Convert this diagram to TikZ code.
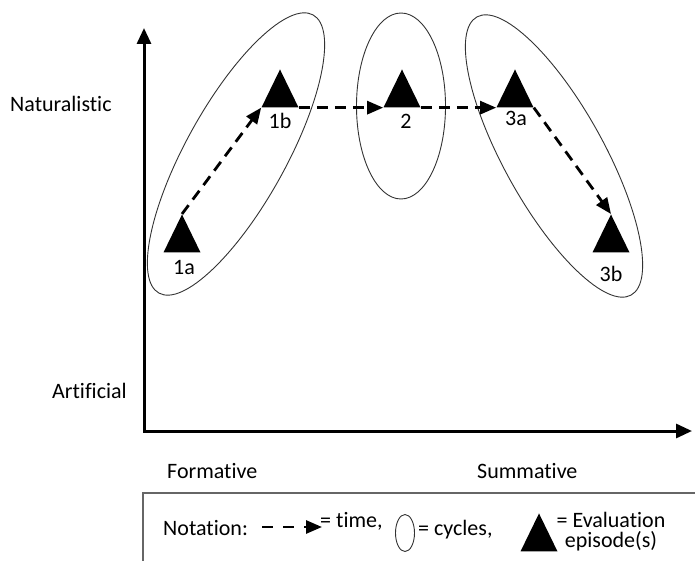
\documentclass[tikz,border=0pt]{standalone}
\usepackage{fontspec}
\setmainfont[Ligatures=NoCommon]{Carlito}
\usetikzlibrary{shapes.geometric,arrows.meta}
\newcommand\lblfont{\fontsize{22}{20}\selectfont}
\begin{document}
\begin{tikzpicture}[x=1pt,y=-1pt,
  tri/.style={isosceles triangle, isosceles triangle apex angle=52,
    isosceles triangle stretches, shape border rotate=90, fill=black, draw=none,
    inner sep=0pt, minimum width=37pt, minimum height=38pt, anchor=apex},
  cyc/.style={ellipse, draw=black!80, line width=0.9pt, inner sep=0pt},
  tarrow/.style={line width=2.8pt, dash pattern=on 11pt off 7pt,
    -{Triangle[length=16pt,width=13pt]}},
  axisline/.style={line width=3pt, line join=miter,
    {Triangle[length=16pt,width=14pt]}-{Triangle[length=16pt,width=14pt]}},
  lab/.style={font=\lblfont, inner sep=0pt, anchor=base},
  txt/.style={font=\lblfont, inner sep=0pt, anchor=base west},
  boxline/.style={line width=1.6pt, draw=black!60}
]
\useasboundingbox (0,0) rectangle (695,561);

% axes
\coordinate (O) at (144,431);
\coordinate (ytop) at (144,28);
\coordinate (xend) at (692,431);
\draw[axisline] (ytop) -- (O) -- (xend);

% axis labels
\node[txt] (nat) at (10,112) {Naturalistic};
\node[txt] (art) at (52,398) {Artificial};
\node[txt] (form) at (167,478) {Formative};
\node[txt] (summ) at (477,478) {Summative};

% cycles
\node[cyc, minimum width=318pt, minimum height=100pt, rotate=61] (c1) at (236,154) {};
\node[cyc, minimum width=89pt, minimum height=186pt] (c2) at (401,106) {};
\node[cyc, minimum width=318pt, minimum height=100pt, rotate=-61] (c3) at (554,156) {};

% evaluation episodes
\node[tri] (t1a) at (182,214) {};
\node[tri] (t1b) at (280,69) {};
\node[tri] (t2) at (402,69) {};
\node[tri] (t3a) at (515,69) {};
\node[tri] (t3b) at (611,214) {};

\node[lab] (l1a) at (184,274) {1a};
\node[lab] (l1b) at (280,129) {1b};
\node[lab] (l2) at (406,129) {2};
\node[lab] (l3a) at (516,126) {3a};
\node[lab] (l3b) at (611,281) {3b};

% time arrows
\draw[tarrow] (t1a.apex) -- (t1b.left corner);
\draw[tarrow] (t1b.right corner) -- (t2.left corner);
\draw[tarrow] (t2.right corner) -- (t3a.left corner);
\draw[tarrow] (t3a.right corner) -- (t3b.apex);

% legend box
\coordinate (bl) at (143,561);
\coordinate (tl) at (143,493);
\coordinate (tr) at (695,493);
\draw[boxline] (bl) -- (tl) -- (tr);

\node[txt] (nota) at (163,535) {Notation:};
\coordinate (la1) at (262,527);
\coordinate (la2) at (322,527);
\draw[tarrow, dash pattern=on 11pt off 10pt] (la1) -- (la2);
\node[txt] (ltime) at (320,527) {= time,};
\node[cyc, minimum width=19pt, minimum height=37pt] (lcyc) at (405,533) {};
\node[txt] (lcycles) at (418,535) {= cycles,};
\node[tri] (ltri) at (539,513) {};
\node[font=\lblfont, inner sep=0pt, align=center] (leval) at (611,532) {= Evaluation\\episode(s)};
\end{tikzpicture}
\end{document}
